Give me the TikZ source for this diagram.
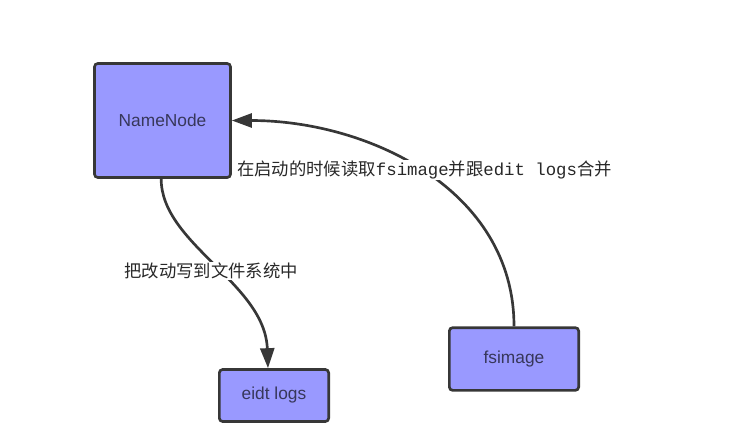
\documentclass[tikz,border=0pt]{standalone}
\usepackage{fontspec}
\setmainfont{Liberation Sans}
\newfontfamily\cjkfont{Noto Sans CJK SC}
\newfontfamily\codefont{Liberation Mono}
\usetikzlibrary{arrows.meta}

\definecolor{boxfill}{RGB}{153,153,255}
\definecolor{boxline}{RGB}{55,55,55}
\definecolor{boxtext}{RGB}{55,55,90}
\definecolor{notetext}{RGB}{40,40,40}

\begin{document}
\begin{tikzpicture}[x=0.75pt, y=-0.75pt,
  box/.style={draw=boxline, line width=2pt, fill=boxfill, rounded corners=2.5pt,
    text=boxtext, inner sep=0pt, font=\fontsize{13}{15}\selectfont},
  flow/.style={draw=boxline, line width=2pt, -{Triangle[length=15pt, width=10.5pt]}},
  note/.style={fill=white, text=notetext, inner sep=1pt, font=\fontsize{13}{15}\selectfont}]

\useasboundingbox (0,0) rectangle (749,429);

\coordinate (NN) at (162.5,120.5);
\coordinate (EL) at (274,395.5);
\coordinate (FS) at (514,359);

\node[box, minimum width=102pt, minimum height=85.5pt] (namenode) at (NN) {NameNode};
\node[box, minimum width=82pt, minimum height=39pt] (editlogs) at (EL) {eidt logs};
\node[box, minimum width=97pt, minimum height=47pt] (fsimage) at (FS) {fsimage};

\draw[flow] ([xshift=-1pt]namenode.south) .. controls +(0,65) and +(-3,-85) .. ([xshift=-4.5pt]editlogs.north);
\draw[flow] (fsimage.north) to[out=90, in=0] (namenode.east);

\node[note] (writenote) at (211,271) {\cjkfont 把改动写到文件系统中};
\node[note] (readnote) at (424.5,170)
  {\cjkfont 在启动的时候读取\codefont fsimage\cjkfont 并跟\codefont edit logs\cjkfont 合并};
\end{tikzpicture}
\end{document}
